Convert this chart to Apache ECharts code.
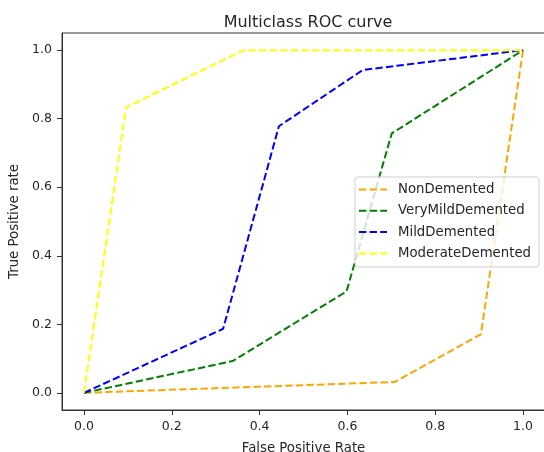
<!DOCTYPE html>
<html>
<head>
    <meta charset="utf-8">
    <title>Multiclass ROC curve</title>
    <script src="https://cdn.jsdelivr.net/npm/echarts@6/dist/echarts.min.js"></script>
    <style>
        html, body { margin: 0; padding: 0; background: #fff; }
        #chart { width: 544px; height: 452px; }
    </style>
</head>
<body>
<div id="chart"></div>
<script>
    // tick labels
    var tickValues = [0, 0.2, 0.4, 0.6, 0.8, 1.0];

    // ROC points (false positive rate / true positive rate)
    var classNames = ['NonDemented', 'VeryMildDemented', 'MildDemented', 'ModerateDemented'];
    var classColors = ['#ffa500', '#008000', '#0000ff', '#ffff00'];

    var nonDementedFpr = [0, 0.708, 0.904, 1];
    var nonDementedTpr = [0, 0.032, 0.171, 1];

    var veryMildFpr = [0, 0.339, 0.598, 0.701, 1];
    var veryMildTpr = [0, 0.093, 0.296, 0.757, 1];

    var mildFpr = [0, 0.317, 0.444, 0.635, 1];
    var mildTpr = [0, 0.187, 0.778, 0.942, 1];

    var moderateFpr = [0, 0.096, 0.364, 1];
    var moderateTpr = [0, 0.833, 1, 1];

    var fprList = [nonDementedFpr, veryMildFpr, mildFpr, moderateFpr];
    var tprList = [nonDementedTpr, veryMildTpr, mildTpr, moderateTpr];

    var textColor = '#262626';
    var fontName = 'DejaVu Sans';
    // dashed handle for the legend, same rhythm as the lines
    var dashIcon = 'path://M0,0H7.4V2H0Z M10.6,0H18V2H10.6Z M21.2,0H28V2H21.2Z';

    function pairs(xs, ys) {
        var out = [];
        for (var i = 0; i < xs.length; i++) {
            out.push([xs[i], ys[i]]);
        }
        return out;
    }

    var series = [];
    for (var k = 0; k < classNames.length; k++) {
        series.push({
            name: classNames[k],
            type: 'line',
            data: pairs(fprList[k], tprList[k]),
            showSymbol: false,
            symbol: 'none',
            color: classColors[k],
            lineStyle: { color: classColors[k], width: 2, type: [7.4, 3.2] }
        });
    }

    function axisCommon(name, nameGap) {
        return {
            type: 'value',
            min: -0.05,
            max: 1.05,
            name: name,
            nameLocation: 'middle',
            nameGap: nameGap,
            nameTextStyle: { color: textColor, fontSize: 13.3, fontFamily: fontName },
            axisLine: { show: true, onZero: false, lineStyle: { color: '#333', width: 1 } },
            axisTick: { show: true, inside: false, length: 5, customValues: tickValues, lineStyle: { color: '#333' } },
            axisLabel: {
                show: true,
                margin: 10,
                customValues: tickValues,
                color: textColor,
                fontSize: 12.5,
                fontFamily: fontName,
                formatter: function (v) { return v.toFixed(1); }
            },
            splitLine: { show: false }
        };
    }

    var xAxis = axisCommon('False Positive Rate', 32);
    var yAxis = axisCommon('True Positive rate', 35);

    var myChart = echarts.init(document.getElementById('chart'));
    var option = {
        animation: false,
        backgroundColor: '#fff',
        title: {
            text: 'Multiclass ROC curve',
            left: 303,
            top: 10,
            textAlign: 'center',
            textStyle: { color: textColor, fontSize: 16, fontWeight: 'normal', fontFamily: fontName }
        },
        grid: {
            left: 62,
            top: 33,
            width: 483,
            height: 377,
            containLabel: false,
            outerBoundsMode: 'none',
            show: true,
            borderColor: '#333',
            borderWidth: 1
        },
        legend: {
            orient: 'vertical',
            left: 355,
            top: 177,
            data: classNames,
            icon: dashIcon,
            itemWidth: 28,
            itemHeight: 2,
            itemGap: 6.3,
            padding: [5, 8, 6, 4],
            backgroundColor: 'rgba(255,255,255,0.8)',
            borderColor: '#d0d0d0',
            borderWidth: 1,
            borderRadius: 3,
            textStyle: { color: textColor, fontSize: 13.3, fontFamily: fontName, lineHeight: 15, padding: [0, 0, 0, 6] }
        },
        xAxis: xAxis,
        yAxis: yAxis,
        series: series
    };
    myChart.setOption(option);
</script>
</body>
</html>
